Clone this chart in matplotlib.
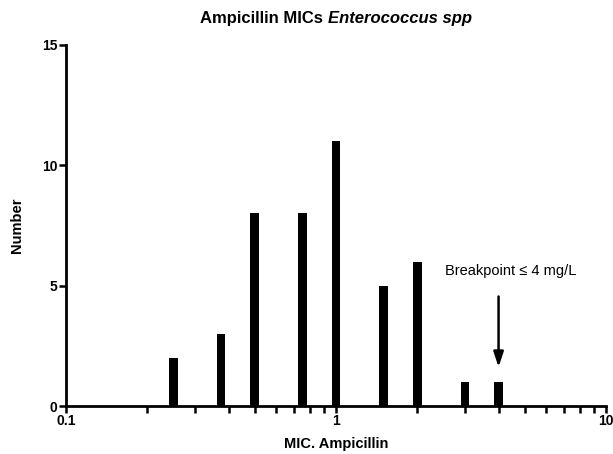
import numpy as np
import matplotlib
matplotlib.use("Agg")
import matplotlib.pyplot as plt
from matplotlib.ticker import FixedLocator, LogLocator, NullFormatter, FixedFormatter

plt.rcParams['font.family'] = ['Liberation Sans', 'DejaVu Sans']

mic = [0.25, 0.375, 0.5, 0.75, 1, 1.5, 2, 3, 4]
counts = [2, 3, 8, 8, 11, 5, 6, 1, 1]
x_ticks = [0.1, 1, 10]
x_tick_labels = ["0.1", "1", "10"]
y_ticks = [0, 5, 10, 15]

W, H = 613, 454
fig = plt.figure(figsize=(W / 100, H / 100), dpi=100)
ax = fig.add_axes([66 / W, 1 - 406 / H, (606 - 66) / W, (406 - 45) / H])

mic_arr = np.array(mic, dtype=float)
d = 8.5 / 270 / 2  # half width in decades
lefts = mic_arr * 10 ** (-d)
widths = mic_arr * 10 ** d - lefts
ax.bar(lefts, counts, width=widths, align='edge', color='black', edgecolor='none')

ax.set_xscale('log')
ax.set_xlim(0.1, 10)
ax.set_ylim(0, 15)
ax.xaxis.set_major_locator(FixedLocator(x_ticks))
ax.xaxis.set_major_formatter(FixedFormatter(x_tick_labels))
ax.xaxis.set_minor_locator(LogLocator(base=10, subs=np.arange(2, 10)))
ax.xaxis.set_minor_formatter(NullFormatter())
ax.set_yticks(y_ticks)

for s in ['top', 'right']:
    ax.spines[s].set_visible(False)
for s in ['left', 'bottom']:
    ax.spines[s].set_linewidth(2)
ax.tick_params(axis='both', which='major', length=5, width=1.8, labelsize=10, pad=1)
ax.tick_params(axis='x', which='minor', length=5, width=1.8)
for lab in ax.get_xticklabels() + ax.get_yticklabels():
    lab.set_fontweight('bold')

ax.set_xlabel("MIC. Ampicillin", fontsize=10.5, fontweight='bold', labelpad=6)
ax.set_ylabel("Number", fontsize=10.5, fontweight='bold', labelpad=13)

fig.text(323 / W, 1 - 18 / H, "Ampicillin MICs", ha='right', va='center',
         fontsize=12, fontweight='bold')
fig.text(328 / W, 1 - 18 / H, "Enterococcus spp", ha='left', va='center',
         fontsize=12, fontweight='bold', fontstyle='italic')

ax.annotate("", xy=(4, 1.62), xytext=(4, 4.55),
            arrowprops=dict(arrowstyle='-|>,head_length=0.9,head_width=0.3',
                            color='black', lw=1.8, shrinkA=0, shrinkB=0))
ax.text(4.45, 5.6, "Breakpoint \u2264 4 mg/L", ha='center', va='center', fontsize=10.5)

fig.savefig("out.png", dpi=100)
